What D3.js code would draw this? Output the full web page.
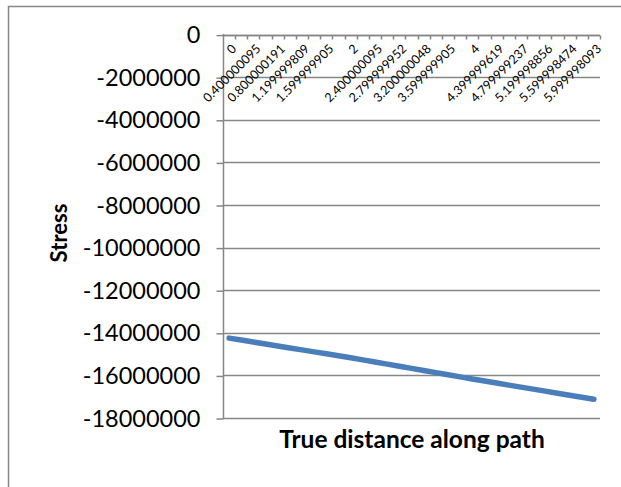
<!DOCTYPE html>
<html><head><meta charset="utf-8">
<script src="https://cdn.jsdelivr.net/npm/d3@7"></script>
<style>body{margin:0;background:#fff;overflow:hidden}</style>
</head><body><svg id="c" width="621" height="487"></svg>
<script>
const categories = ["0","0.200000048","0.400000095","0.600000143","0.800000191","1","1.199999809","1.399999857","1.599999905","1.799999952","2","2.200000048","2.400000095","2.599999905","2.799999952","3","3.200000048","3.400000095","3.599999905","3.799999952","4","4.199999809","4.399999619","4.599999428","4.799999237","4.999999046","5.199998856","5.399998665","5.599998474","5.799998283","5.999998093"];
const stressValues = [-14250000,-14342000,-14434000,-14526000,-14618000,-14710000,-14802000,-14894000,-14986000,-15078000,-15170000,-15270000,-15370000,-15470000,-15570000,-15670000,-15770000,-15870000,-15970000,-16070000,-16170000,-16265000,-16360000,-16455000,-16550000,-16645000,-16740000,-16835000,-16930000,-17025000,-17120000];
const yTickValues = [0,-2000000,-4000000,-6000000,-8000000,-10000000,-12000000,-14000000,-16000000,-18000000];
const xTitle = "True distance along path";
const yTitle = "Stress";

(function(){
const svg = d3.select("#c");
const grey = "#868686";
const pLeft = 223, pRight = 600, pTop = 34.6, pBottom = 418;

svg.append("rect").attr("x",0).attr("y",0).attr("width",621).attr("height",487).attr("fill","#fff");
svg.append("rect").attr("x",8.5).attr("y",6.5).attr("width",800).attr("height",800)
  .attr("fill","none").attr("stroke",grey).attr("stroke-width",1.5);

const x = d3.scaleBand().domain(categories).range([pLeft,pRight]).padding(0);
const y = d3.scaleLinear().domain([0,-18000000]).range([pTop,pBottom]);
const cx = c => x(c) + x.bandwidth()/2;

// gridlines
svg.append("g").selectAll("line").data(yTickValues).join("line")
  .attr("x1",pLeft).attr("x2",pRight).attr("y1",d=>Math.round(y(d))+0.5).attr("y2",d=>Math.round(y(d))+0.5)
  .attr("stroke",grey).attr("stroke-width",1.5);

// y axis
const yAxis = d3.axisLeft(y).tickValues(yTickValues).tickSize(7).tickPadding(16).tickFormat(d3.format("d"));
const gy = svg.append("g").attr("transform",`translate(${pLeft+0.5},0.5)`).call(yAxis);
gy.select(".domain").attr("stroke",grey).attr("stroke-width",1.5).attr("d",`M0,${pTop-1}V${pBottom}`);
gy.selectAll(".tick line").attr("stroke",grey).attr("stroke-width",1.5);
gy.selectAll(".tick text").attr("font-family","Lato").attr("font-size",23.5).attr("fill","#000").text(d=>d3.format("d")(d).replace("\u2212","-"));

// x axis at y=0 (top)
const y0 = Math.round(y(0))+0.5;
const gx = svg.append("g");
gx.append("line").attr("x1",pLeft).attr("x2",pRight).attr("y1",y0).attr("y2",y0).attr("stroke",grey).attr("stroke-width",1.5);
const tickPos = categories.map(c=>x(c)).concat([x.range()[1]]);
gx.selectAll("line.t").data(tickPos.slice(1)).join("line").attr("class","t")
  .attr("x1",d=>Math.round(d)+0.5).attr("x2",d=>Math.round(d)+0.5).attr("y1",y0).attr("y2",y0+4)
  .attr("stroke",grey).attr("stroke-width",1.5);
gx.selectAll("text").data(categories.filter((c,i)=>i%2===0)).join("text")
  .attr("transform",c=>`translate(${cx(c)+5},${y0+11}) rotate(-45)`)
  .attr("text-anchor","end").attr("dy","0.35em")
  .attr("font-family","Lato").attr("font-size",12.5).attr("fill","#000")
  .text(c=>c);

// line
const line = d3.line().x((d,i)=>cx(categories[i])).y(d=>y(d));
svg.append("path").datum(stressValues).attr("d",line).attr("fill","none")
  .attr("stroke","#4a7ebb").attr("stroke-width",5.5).attr("stroke-linecap","round").attr("stroke-linejoin","round");

// titles
svg.append("text").attr("x",412).attr("y",448).attr("text-anchor","middle")
  .attr("font-family","Lato").attr("font-weight","bold").attr("font-size",24.5).attr("fill","#000").text(xTitle);
svg.append("text").attr("transform","translate(67,233) rotate(-90)").attr("text-anchor","middle")
  .attr("font-family","Lato").attr("font-weight","bold").attr("font-size",22).attr("fill","#000").text(yTitle);
})();
</script>
</body></html>
